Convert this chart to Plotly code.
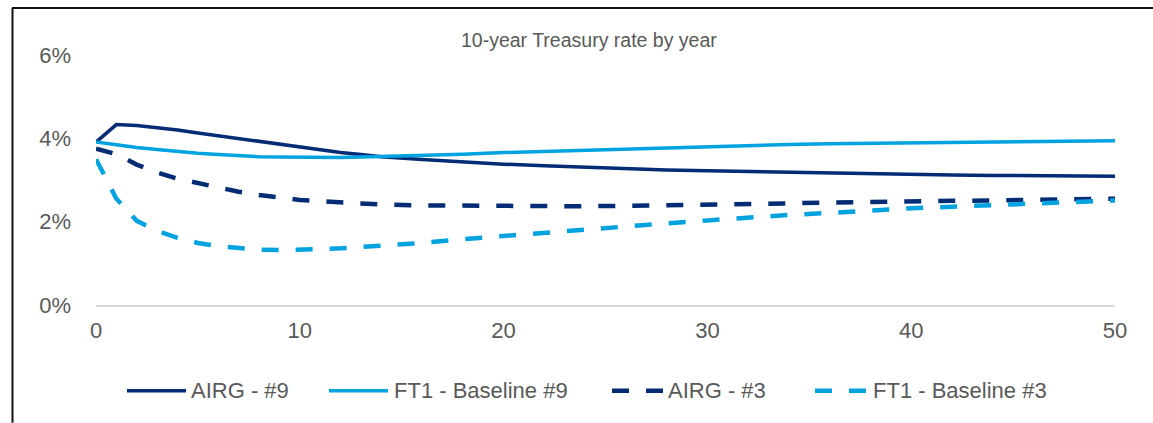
import plotly.graph_objects as go

# Projection years (yearly to 14, then every second year)
years = list(range(0, 15)) + list(range(16, 51, 2))

# 10-year Treasury rate (%) by scenario
airg_9 = [3.91, 4.33, 4.31, 4.26, 4.20, 4.13, 4.06, 3.99, 3.92, 3.85, 3.78, 3.72, 3.66, 3.61, 3.56,
          3.49, 3.43, 3.38, 3.34, 3.30, 3.27, 3.24, 3.22, 3.20, 3.18, 3.16, 3.15, 3.13, 3.12, 3.11,
          3.10, 3.10, 3.09]
ft1_base_9 = [3.91, 3.84, 3.78, 3.73, 3.68, 3.64, 3.61, 3.58, 3.56, 3.55, 3.54, 3.54, 3.54, 3.55, 3.56,
              3.59, 3.62, 3.66, 3.69, 3.72, 3.75, 3.78, 3.80, 3.83, 3.85, 3.87, 3.88, 3.90, 3.91, 3.92,
              3.93, 3.94, 3.94]
airg_3 = [3.75, 3.62, 3.37, 3.18, 3.03, 2.92, 2.81, 2.72, 2.64, 2.57, 2.52, 2.49, 2.46, 2.43, 2.41,
          2.39, 2.38, 2.37, 2.37, 2.37, 2.38, 2.39, 2.40, 2.42, 2.44, 2.46, 2.48, 2.49, 2.50, 2.51,
          2.53, 2.54, 2.55]
ft1_base_3 = [3.50, 2.55, 2.02, 1.78, 1.61, 1.49, 1.41, 1.36, 1.33, 1.32, 1.32, 1.34, 1.36, 1.39, 1.41,
              1.49, 1.58, 1.66, 1.73, 1.81, 1.88, 1.96, 2.03, 2.10, 2.16, 2.21, 2.27, 2.32, 2.36, 2.40,
              2.44, 2.47, 2.51]

series_names = ["AIRG - #9", "FT1 - Baseline #9", "AIRG - #3", "FT1 - Baseline #3"]
x_ticks = [0, 10, 20, 30, 40, 50]
y_ticks = [0, 2, 4, 6]
y_tick_labels = ["0%", "2%", "4%", "6%"]
chart_title = "10-year Treasury rate by year"

NAVY = "#032C74"
SKY = "#00A3E0"
TEXT = "#595959"
FONT = "Liberation Sans, Arial, sans-serif"

W, H = 1153, 423
ML, MR, MT, MB = 96, 38, 54.5, 118
PW, PH = W - ML - MR, H - MT - MB


def px_x(px):
    return (px - ML) / PW


def px_y(py):
    return (H - MB - py) / PH


styles = [
    dict(color=NAVY, width=3.5, dash="solid"),
    dict(color=SKY, width=3.5, dash="solid"),
    dict(color=NAVY, width=4.5, dash="17px,17px"),
    dict(color=SKY, width=4.5, dash="17px,17px"),
]

fig = go.Figure()
for name, vals, st in zip(series_names, [airg_9, ft1_base_9, airg_3, ft1_base_3], styles):
    fig.add_trace(go.Scatter(
        x=years, y=vals, name=name, mode="lines",
        line=dict(color=st["color"], width=st["width"], dash=st["dash"]),
        showlegend=False, hoverinfo="skip",
    ))

shapes = []
annotations = []

# Legend row: sample line + label for each series
legend_items = [
    (127, 186, 191),
    (329, 388, 394),
    (612, 665, 668),
    (815, 870, 873),
]
legend_y = 391
for (x0, x1, tx), name, st in zip(legend_items, series_names, styles):
    shapes.append(dict(
        type="line", xref="paper", yref="paper",
        x0=px_x(x0), x1=px_x(x1), y0=px_y(legend_y), y1=px_y(legend_y),
        line=dict(color=st["color"], width=st["width"], dash=st["dash"]),
    ))
    annotations.append(dict(
        text=name, xref="paper", yref="paper", x=px_x(tx - 2), y=px_y(legend_y),
        xanchor="left", yanchor="middle", showarrow=False,
        font=dict(family=FONT, size=22, color=TEXT),
    ))

# Chart title
annotations.append(dict(
    text=chart_title, xref="paper", yref="paper", x=px_x(589), y=px_y(39),
    xanchor="center", yanchor="middle", showarrow=False,
    font=dict(family=FONT, size=19.5, color=TEXT),
))

# Frame around the chart (top and left edges)
shapes.append(dict(type="line", xref="paper", yref="paper",
                   x0=px_x(12), x1=px_x(W), y0=px_y(7.5), y1=px_y(7.5),
                   line=dict(color="#111111", width=2)))
shapes.append(dict(type="line", xref="paper", yref="paper",
                   x0=px_x(12.5), x1=px_x(12.5), y0=px_y(7.5), y1=px_y(H),
                   line=dict(color="#111111", width=2)))

fig.update_layout(
    width=W, height=H,
    margin=dict(l=ML, r=MR, t=MT, b=MB, pad=0),
    paper_bgcolor="white", plot_bgcolor="white",
    font=dict(family=FONT, size=22, color=TEXT),
    shapes=shapes, annotations=annotations,
    showlegend=False,
)
fig.update_xaxes(
    range=[0, 50], tickvals=x_ticks, showgrid=False, zeroline=False,
    showline=True, linecolor="#D9D9D9", linewidth=1.5,
    ticks="", ticklabelstandoff=5,
    tickfont=dict(family=FONT, size=22, color=TEXT),
)
fig.update_yaxes(
    range=[0, 6], tickvals=y_ticks, ticktext=y_tick_labels,
    showgrid=False, zeroline=False,
    showline=False, ticks="", ticklabelstandoff=24,
    tickfont=dict(family=FONT, size=22, color=TEXT),
)

fig.write_html("out.html")
